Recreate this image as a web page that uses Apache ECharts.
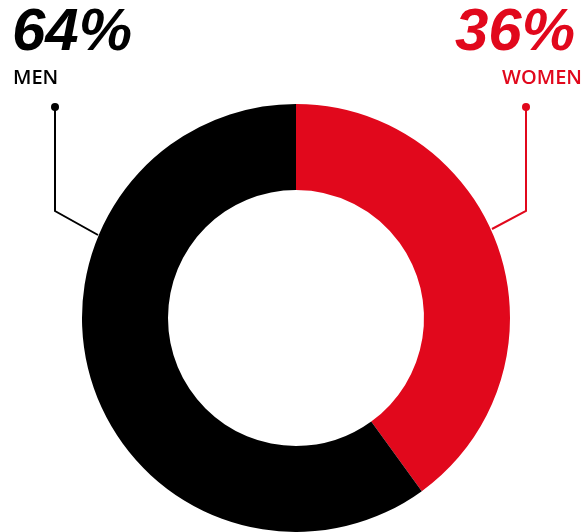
<!DOCTYPE html>
<html>
<head>
<meta charset="utf-8">
<script src="https://cdn.jsdelivr.net/npm/echarts@6/dist/echarts.min.js"></script>
<style>html,body{margin:0;padding:0;background:#fff}#c{width:583px;height:532px}</style>
</head>
<body>
<div id="c"></div>
<script>
// Data
const categories = ['WOMEN', 'MEN'];
const shareLabels = ['36%', '64%'];
const sliceValues = [40, 60]; // slice angles as drawn in the reference
const colors = ['#e1081c', '#000000'];

const chart = echarts.init(document.getElementById('c'), null, {renderer: 'canvas'});
const bigFont = {fontFamily: 'Liberation Sans', fontWeight: 'bold', fontStyle: 'italic', fontSize: 60};
const smallFont = {fontFamily: 'Open Sans', fontWeight: 600, fontSize: 20};

chart.setOption({
  animation: false,
  series: [{
    type: 'pie',
    radius: [128, 214],
    center: [296, 318],
    startAngle: 90,
    clockwise: true,
    label: {show: false},
    labelLine: {show: false},
    emphasis: {disabled: true},
    itemStyle: {borderWidth: 0},
    data: categories.map((c, i) => ({name: c, value: sliceValues[i], itemStyle: {color: colors[i]}}))
  }],
  graphic: [
    // MEN annotation
    {type: 'text', left: 12, top: 3, style: Object.assign({text: shareLabels[1], fill: colors[1]}, bigFont)},
    {type: 'text', left: 13, top: 68, style: Object.assign({text: categories[1], fill: colors[1]}, smallFont)},
    {type: 'polyline', shape: {points: [[55, 107], [55, 211], [98, 235]]}, style: {stroke: colors[1], lineWidth: 2, fill: null}},
    {type: 'circle', shape: {cx: 55, cy: 107, r: 4}, style: {fill: colors[1]}},
    // WOMEN annotation
    {type: 'text', right: 8, top: 3, style: Object.assign({text: shareLabels[0], fill: colors[0]}, bigFont)},
    {type: 'text', right: 1, top: 68, style: Object.assign({text: categories[0], fill: colors[0]}, smallFont)},
    {type: 'polyline', shape: {points: [[526, 107], [526, 211], [492, 229]]}, style: {stroke: colors[0], lineWidth: 2, fill: null}},
    {type: 'circle', shape: {cx: 526, cy: 107, r: 4}, style: {fill: colors[0]}}
  ]
});
</script>
</body>
</html>
